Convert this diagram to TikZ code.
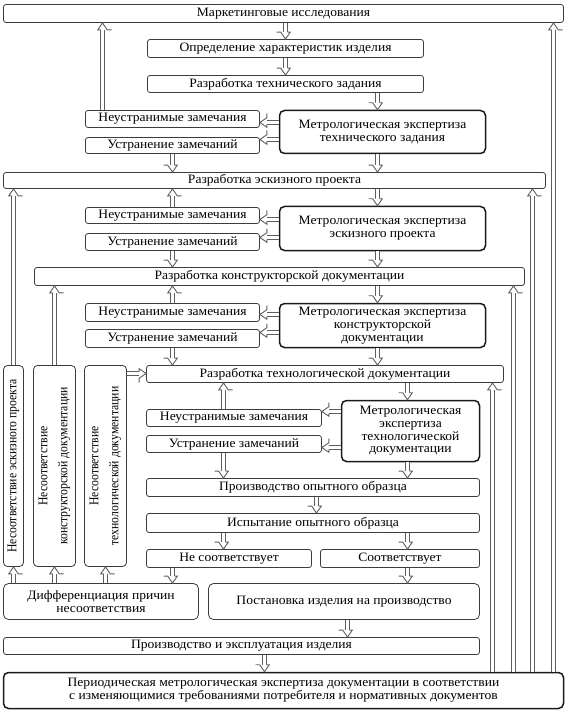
\documentclass[tikz,border=0pt]{standalone}
\usepackage{fontspec}
\setmainfont{Liberation Serif}[FakeStretch=1.06]
\newfontfamily\vfont{Liberation Serif}[FakeStretch=0.88]
\usetikzlibrary{decorations.markings}
\definecolor{bc}{HTML}{3C3C3C}
\definecolor{lc}{HTML}{5E5E5E}
\newcommand\hfs{\fontsize{12.8}{12.7}\selectfont}
\newcommand\vfs{\vfont\fontsize{13.3}{20}\selectfont}
\newcommand\mkbox[7]{\node[#6, minimum width={(#3-#2)*1pt}, minimum height={(#5-#4)*1pt}] (#1) at ({(#2+#3)/2+0.5},{(#4+#5)/2+0.5}) {#7};}
\begin{document}
\begin{tikzpicture}[x=1pt, y=-1pt,
  box/.style={draw=bc, line width=0.8pt, rounded corners=2.5pt, inner sep=0pt, font=\hfs, align=center},
  mbox/.style={box, draw=black!90, line width=1.5pt, rounded corners=5pt},
  rbox/.style={box, rounded corners=5pt},
  vbox/.style={box, rounded corners=4pt},
  vtext/.style={rotate=90, font=\vfs, align=center, inner sep=0pt},
  arr/.style={draw=lc, line width=1pt, double=white, double distance=3pt, shorten >=7pt,
    postaction={decorate, decoration={markings, mark=at position 1 with {\filldraw[draw=lc, line width=0.9pt, fill=white, line join=miter] (-7pt,2pt) -- (-7pt,4.8pt) -- (0pt,0pt) -- (-7pt,-4.8pt) -- (-7pt,-2pt);}}}},
]
\useasboundingbox (0,0) rectangle (567,711);
% boxes
\mkbox{mkt}{3}{563}{4}{22}{box}{Маркетинговые исследования}
\mkbox{opr}{147}{423}{39}{57}{box}{Определение характеристик изделия}
\mkbox{rtz}{147}{423}{75}{92}{box}{Разработка технического задания}
\mkbox{ne1}{85}{259}{110}{127}{box}{Неустранимые замечания}
\mkbox{us1}{85}{259}{137}{153}{box}{Устранение замечаний}
\mkbox{me1}{279}{485}{110}{153}{mbox}{Метрологическая экспертиза\\технического задания}
\mkbox{esk}{3}{545}{172}{188}{box}{Разработка эскизного проекта}
\mkbox{ne2}{85}{259}{207}{223}{box}{Неустранимые замечания}
\mkbox{us2}{85}{259}{233}{250}{box}{Устранение замечаний}
\mkbox{me2}{279}{485}{206}{250}{mbox}{Метрологическая экспертиза\\эскизного проекта}
\mkbox{kon}{34}{524}{267}{285}{box}{Разработка конструкторской документации}
\mkbox{ne3}{85}{259}{303}{321}{box}{Неустранимые замечания}
\mkbox{us3}{85}{259}{329}{347}{box}{Устранение замечаний}
\mkbox{me3}{279}{485}{303}{347}{mbox}{Метрологическая экспертиза\\конструкторской\\документации}
\mkbox{teh}{146}{503}{365}{382}{box}{Разработка технологической документации}
\mkbox{ne4}{146}{321}{409}{426}{box}{Неустранимые замечания}
\mkbox{us4}{146}{321}{435}{452}{box}{Устранение замечаний}
\mkbox{me4}{341}{479}{400}{461}{mbox}{Метрологическая\\экспертиза\\технологической\\документации}
\mkbox{pro}{146}{479}{478}{496}{box}{Производство опытного образца}
\mkbox{isp}{146}{479}{513}{532}{box}{Испытание опытного образца}
\mkbox{nes}{146}{311}{549}{567}{box}{Не соответствует}
\mkbox{soo}{320}{479}{549}{567}{box}{Соответствует}
\mkbox{dif}{3}{198}{583}{619}{rbox}{Дифференциация причин\\несоответствия}
\mkbox{pos}{208}{479}{583}{619}{rbox}{Постановка изделия на производство}
\mkbox{pre}{3}{479}{637}{654}{box}{Производство и эксплуатация изделия}
\mkbox{per}{3}{563}{672}{708}{mbox}{Периодическая метрологическая экспертиза документации в соответствии\\с изменяющимися требованиями потребителя и нормативных документов}
\mkbox{v1}{3}{23}{365}{566}{vbox}{}
\mkbox{v2}{33}{75}{365}{566}{vbox}{}
\mkbox{v3}{84}{126}{365}{566}{vbox}{}
\node[vtext] (t1) at (v1.center) {Несоответствие эскизного проекта};
\node[vtext] (t2) at (v2.center) {Несоответствие\\конструкторской документации};
\node[vtext] (t3) at (v3.center) {Несоответствие\\технологической документации};
% lanes
\coordinate (cA) at (285.5,0);
\coordinate (cB) at (377.5,0);
\coordinate (cC) at (172.5,0);
\coordinate (cD) at (102.5,0);
\coordinate (cE) at (223.5,0);
\coordinate (cF) at (407.5,0);
\coordinate (cG) at (316.5,0);
\coordinate (cH) at (347.5,0);
\coordinate (cI) at (264.5,0);
\coordinate (r1) at (553.5,0);
\coordinate (r2) at (532.5,0);
\coordinate (r3) at (513.5,0);
\coordinate (r4) at (492.5,0);
\coordinate (h1) at (0,122.5);
\coordinate (h2) at (0,139.5);
\coordinate (h3) at (0,219.5);
\coordinate (h4) at (0,237.5);
\coordinate (h5) at (0,314.5);
\coordinate (h6) at (0,332.5);
\coordinate (h7) at (0,373.5);
\coordinate (h8) at (0,411.5);
\coordinate (h9) at (0,447.5);
% arrows
\draw[arr] (mkt.south -| cA) -- (opr.north -| cA);
\draw[arr] (opr.south -| cA) -- (rtz.north -| cA);
\draw[arr] (rtz.south -| cB) -- (me1.north -| cB);
\draw[arr] (me1.west |- h1) -- (ne1.east |- h1);
\draw[arr] (me1.west |- h2) -- (us1.east |- h2);
\draw[arr] (ne1.north -| cD) -- (mkt.south -| cD);
\draw[arr] (us1.south -| cC) -- (esk.north -| cC);
\draw[arr] (me1.south -| cB) -- (esk.north -| cB);
\draw[arr] (esk.south -| cB) -- (me2.north -| cB);
\draw[arr] (ne2.north -| cC) -- (esk.south -| cC);
\draw[arr] (me2.west |- h3) -- (ne2.east |- h3);
\draw[arr] (me2.west |- h4) -- (us2.east |- h4);
\draw[arr] (us2.south -| cC) -- (kon.north -| cC);
\draw[arr] (me2.south -| cB) -- (kon.north -| cB);
\draw[arr] (kon.south -| cB) -- (me3.north -| cB);
\draw[arr] (ne3.north -| cC) -- (kon.south -| cC);
\draw[arr] (me3.west |- h5) -- (ne3.east |- h5);
\draw[arr] (me3.west |- h6) -- (us3.east |- h6);
\draw[arr] (us3.south -| cC) -- (teh.north -| cC);
\draw[arr] (me3.south -| cB) -- (teh.north -| cB);
\draw[arr] (v3.east |- h7) -- (teh.west |- h7);
\draw[arr] (ne4.north -| cE) -- (teh.south -| cE);
\draw[arr] (teh.south -| cF) -- (me4.north -| cF);
\draw[arr] (me4.west |- h8) -- (ne4.east |- h8);
\draw[arr] (me4.west |- h9) -- (us4.east |- h9);
\draw[arr] (us4.south -| cE) -- (pro.north -| cE);
\draw[arr] (me4.south -| cF) -- (pro.north -| cF);
\draw[arr] (pro.south -| cG) -- (isp.north -| cG);
\draw[arr] (isp.south -| cE) -- (nes.north -| cE);
\draw[arr] (isp.south -| cF) -- (soo.north -| cF);
\draw[arr] (nes.south -| cC) -- (dif.north -| cC);
\draw[arr] (soo.south -| cF) -- (pos.north -| cF);
\draw[arr] (pos.south -| cH) -- (pre.north -| cH);
\draw[arr] (pre.south -| cI) -- (per.north -| cI);
\draw[arr] (dif.north -| v1.south) -- (v1.south);
\draw[arr] (dif.north -| v2.south) -- (v2.south);
\draw[arr] (dif.north -| v3.south) -- (v3.south);
\draw[arr] (v1.north) -- (esk.south -| v1.north);
\draw[arr] (v2.north) -- (kon.south -| v2.north);
\draw[arr] (per.north -| r1) -- (mkt.south -| r1);
\draw[arr] (per.north -| r2) -- (esk.south -| r2);
\draw[arr] (per.north -| r3) -- (kon.south -| r3);
\draw[arr] (per.north -| r4) -- (teh.south -| r4);
\end{tikzpicture}
\end{document}
